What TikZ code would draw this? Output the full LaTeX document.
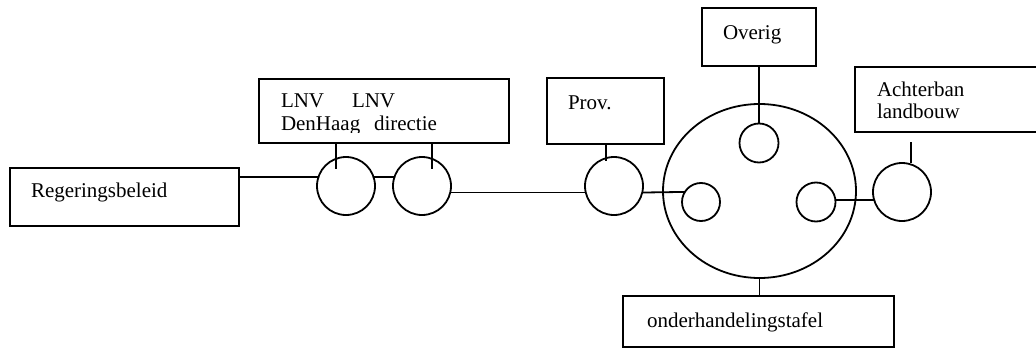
\documentclass[tikz,border=0pt]{standalone}
\usepackage{fontspec}
\setmainfont{Liberation Serif}
\usetikzlibrary{shapes.geometric}
\begin{document}
\begin{tikzpicture}[x=1pt,y=-1pt,
  line width=1.8pt,
  every node/.style={inner sep=0pt,outer sep=0pt},
  box/.style={draw,rectangle,anchor=north west},
  ring/.style={draw,circle},
  lbl/.style={anchor=base west,font=\fontsize{21}{22}\selectfont}]
\useasboundingbox (0,0) rectangle (1036,348);
\clip (0,0) rectangle (1036,348);

% boxes
\node[box,minimum width=229pt,minimum height=58pt] (reg) at (10,168) {};
\node[box,minimum width=250pt,minimum height=64pt] (lnv) at (259,79) {};
\node[box,minimum width=117pt,minimum height=66pt] (prov) at (547,78) {};
\node[box,minimum width=114pt,minimum height=58pt] (ov) at (702,8) {};
\node[box,minimum width=200pt,minimum height=65pt] (ach) at (855,67) {};
\node[box,minimum width=271pt,minimum height=51pt] (ond) at (623,296) {};

% labels
\node[lbl] (tReg) at (31,197) {Regeringsbeleid};
\node[lbl] (tLnvA) at (281,107) {LNV};
\node[lbl] (tLnvB) at (352,107) {LNV};
\begin{scope}
  \clip (259,79) rectangle (509,132);
  \node[lbl] (tDH) at (281,130) {DenHaag};
\end{scope}
\node[lbl] (tDir) at (374,130) {directie};
\node[lbl] (tProv) at (568,109) {Prov.};
\node[lbl] (tOv) at (723,39) {Overig};
\node[lbl] (tAchA) at (877,96) {Achterban};
\node[lbl] (tAchB) at (877,118) {landbouw};
\node[lbl] (tOnd) at (647,327) {onderhandelingstafel};

% circles
\node[ring,minimum size=58pt] (c1) at (346,186) {};
\node[ring,minimum size=58pt] (c2) at (422,186) {};
\node[ring,minimum size=58pt] (pc) at (614,186) {};
\node[draw,ellipse,minimum width=193pt,minimum height=174pt] (big) at (759.5,191) {};
\node[ring,minimum size=39pt] (st) at (759,143) {};
\node[ring,minimum size=38pt] (sl) at (701,202) {};
\node[ring,minimum size=39pt] (sr) at (816,202) {};
\node[ring,minimum size=58pt] (ac) at (902,192) {};

% tick ends
\coordinate (t1) at (336,169);
\coordinate (t2) at (432,169);
\coordinate (t3) at (606,161);
\coordinate (t4) at (911,142);

% connectors
\draw (reg.east |- c1.162) -- (c1.162);
\draw (c1.18) -- (c2.162);
\draw (c2.-13) -- (pc.193);
\draw (pc.-13) -- (sl.148);
\draw (sr.6) -- (ac.196);
\draw (t1 |- lnv.south) -- (t1);
\draw (t2 |- lnv.south) -- (t2);
\draw (t3 |- prov.south) -- (t3);
\draw (t4) -- (t4 |- ac.north);
\draw (ov.south) -- (st.north);
\draw (big.south) -- (big.south |- ond.north);
\end{tikzpicture}
\end{document}
